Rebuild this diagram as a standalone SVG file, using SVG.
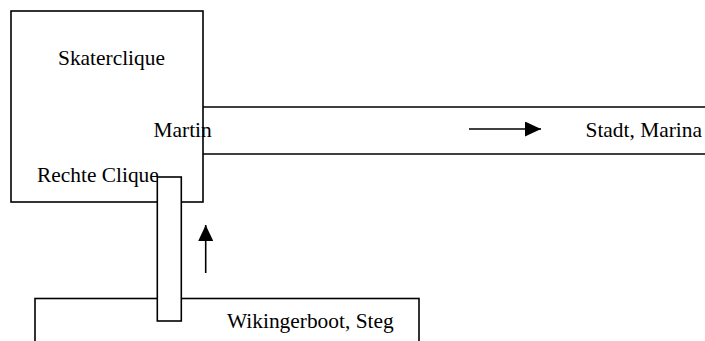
<svg xmlns="http://www.w3.org/2000/svg" width="705" height="341" viewBox="0 0 705 341">
<style>
.s{fill:none;stroke:#000;stroke-width:1.6}
.w{fill:#fff;stroke:#000;stroke-width:1.6}
text{font-family:"Liberation Serif","Times New Roman",serif;font-size:21.4px;fill:#000}
</style>
<defs>
<marker id="ah" markerWidth="16" markerHeight="15" refX="16" refY="7.5" orient="auto" markerUnits="userSpaceOnUse">
<path d="M0,0 L16,7.5 L0,15 Z" fill="#000"/>
</marker>
</defs>
<rect width="705" height="341" fill="#fff"/>
<g id="skaterclique">
<rect class="s" x="11" y="11" width="192" height="191"/>
<text x="58" y="65">Skaterclique</text>
<text x="37" y="182">Rechte Clique</text>
</g>
<g id="road">
<line class="s" x1="203" y1="107" x2="705" y2="107"/>
<line class="s" x1="203" y1="154" x2="705" y2="154"/>
<text x="153.5" y="137">Martin</text>
<text x="585.5" y="137">Stadt, Marina</text>
</g>
<g id="wikingerboot">
<rect class="s" x="35" y="298.5" width="384" height="60"/>
<text x="227" y="328">Wikingerboot, Steg</text>
</g>
<g id="steg">
<rect class="w" x="157.3" y="177" width="24" height="144"/>
</g>
<g id="connectors">
<line x1="469" y1="129" x2="541" y2="129" stroke="#000" stroke-width="1.6" marker-end="url(#ah)"/>
<line x1="205.7" y1="273" x2="205.7" y2="225" stroke="#000" stroke-width="1.6" marker-end="url(#ah)"/>
</g>
</svg>
